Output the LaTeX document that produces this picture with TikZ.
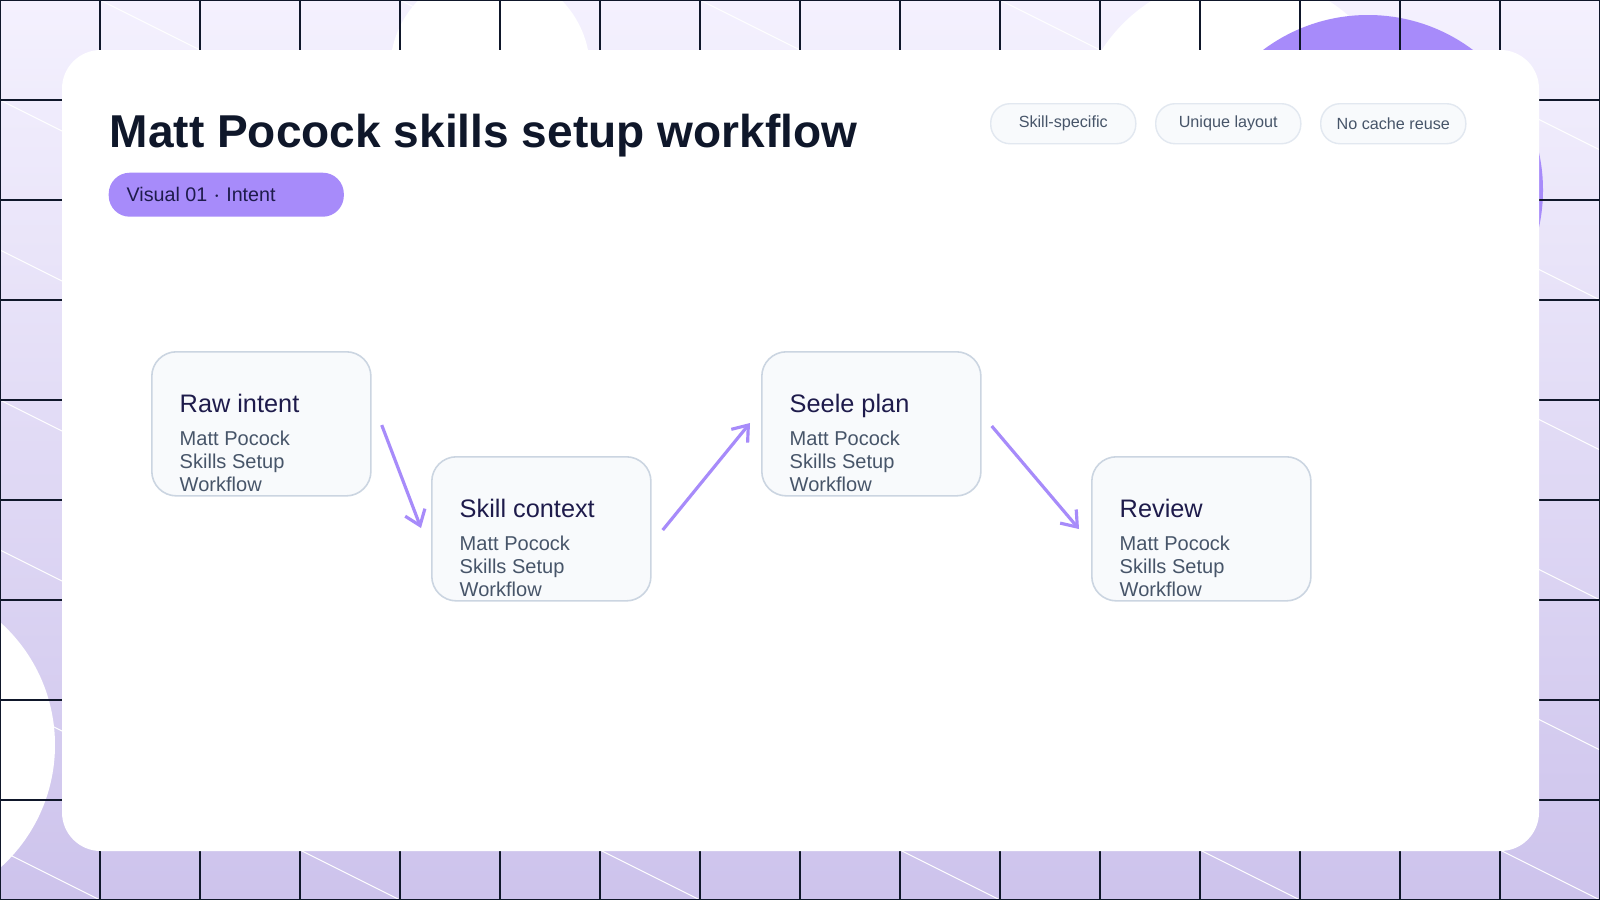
\documentclass[tikz,border=0pt]{standalone}
\usepackage{fontspec}
\setmainfont{Liberation Sans}
\usetikzlibrary{positioning,arrows.meta}
\definecolor{violet}{HTML}{A78BFA}
\definecolor{bgtop}{HTML}{F4F1FE}
\definecolor{bgbot}{HTML}{CDC3EC}
\definecolor{navy}{HTML}{0F172A}
\definecolor{slate}{HTML}{475569}
\definecolor{cardfill}{HTML}{F8FAFC}
\definecolor{cardline}{HTML}{CBD5E1}
\definecolor{tagline}{HTML}{E2E8F0}
\definecolor{ink}{HTML}{1E1B4B}
\tikzset{
	stagebox/.style={draw=cardline, fill=cardfill, line width=0.45pt, rounded corners=7pt, minimum width=2.19cm, minimum height=1.44cm, anchor=north west},
	tagbox/.style={draw=tagline, fill=cardfill, line width=0.4pt, rounded corners=5.5pt, minimum width=1.45cm, minimum height=0.4cm, anchor=north west, text=slate, font=\fontsize{4.6pt}{5pt}\selectfont},
	flow/.style={violet, line width=0.9pt, -{Straight Barb[length=4pt,width=6pt]}}
}
\newcommand{\stage}[4]{%
	\node[stagebox] (#1) at (#2,#3) {};
	\node[anchor=base west, text=ink, font=\fontsize{7.2pt}{8pt}\selectfont, inner sep=0] at ([xshift=0.28cm,yshift=-0.61cm]#1.north west) {#4};
	\node[anchor=north west, text=slate, align=left, font=\fontsize{5.7pt}{6.55pt}\selectfont, inner sep=0] at ([xshift=0.28cm,yshift=-0.79cm]#1.north west) {Matt Pocock\\Skills Setup\\Workflow};
}
\begin{document}
\begin{tikzpicture}[x=0.01cm, y=-0.01cm]
	\useasboundingbox (0,0) rectangle (1600,900);
	
	% backdrop
	\shade[top color=bgtop, bottom color=bgbot] (0,0) rectangle (1600,900);
	\begin{scope}
		\clip (0,0) rectangle (1600,900);
		\foreach \c in {-800,-650,...,900}
			\draw[white, line width=0.3pt] (0,\c) -- (1600,\c+800);
		\fill[white] (490,70) circle [radius=100];
		\fill[white] (1240,140) circle [radius=165];
		\fill[violet] (1368,190) circle [radius=175];
		\fill[white] (-110,745) circle [radius=165];
		\foreach \x in {0,100,...,1600}
			\draw[navy, line width=0.3pt] (\x,0) -- (\x,900);
		\foreach \y in {0,100,...,900}
			\draw[navy, line width=0.3pt] (0,\y) -- (1600,\y);
	\end{scope}
	\fill[white, rounded corners=11pt] (62,50) rectangle (1539,851);
	
	% heading
	\node[anchor=base west, inner sep=0, text=navy, font=\fontsize{13.1pt}{15pt}\selectfont\bfseries] (title) at (109,147) {Matt Pocock skills setup workflow};
	\node[fill=violet, rounded corners=6pt, minimum width=2.35cm, minimum height=0.44cm, anchor=north west] (badge) at (108,172) {};
	\node[anchor=west, inner sep=0, text=ink, font=\fontsize{5.6pt}{6pt}\selectfont] (badgetext) at ([xshift=0.18cm]badge.west) {Visual 01 $\cdot$ Intent};
	\node[tagbox] (skill) at (990,103) {Skill-specific};
	\node[tagbox] (unique) at (1155,103) {Unique layout};
	\node[tagbox] (cache) at (1320,103) {No cache reuse};
	
	% stages
	\stage{raw}{151}{351}{Raw intent}
	\stage{context}{431}{456}{Skill context}
	\stage{plan}{761}{351}{Seele plan}
	\stage{review}{1091}{456}{Review}
	
	\draw[flow] ([xshift=0.1cm,yshift=-0.74cm]raw.north east) -- ([xshift=-0.1cm,yshift=-0.72cm]context.north west);
	\draw[flow] ([xshift=0.11cm,yshift=-0.74cm]context.north east) -- ([xshift=-0.11cm,yshift=-0.72cm]plan.north west);
	\draw[flow] ([xshift=0.1cm,yshift=-0.75cm]plan.north east) -- ([xshift=-0.12cm,yshift=-0.73cm]review.north west);
\end{tikzpicture}
\end{document}
